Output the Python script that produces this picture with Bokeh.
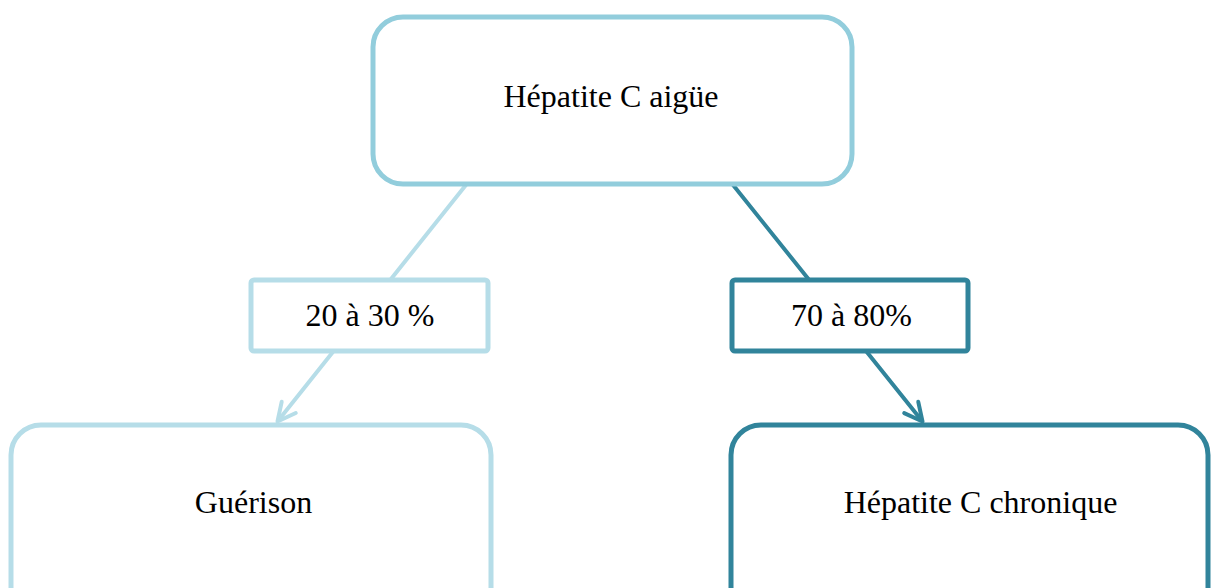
from bokeh.plotting import figure
from bokeh.models import Range1d, Arrow, OpenHead
from bokeh.core.properties import value
from bokeh.embed import file_html
from bokeh.resources import INLINE

W, H = 1211, 588  # reference size; y measured top-down in reference pixels, flipped below

# Nodes of the diagram
labels = ["Hépatite C aigüe", "20 à 30 %", "70 à 80%", "Guérison", "Hépatite C chronique"]
box_left = [372.5, 250.5, 731.5, 10.5, 730.5]
box_right = [851.5, 487.5, 967.5, 490.5, 1207.5]
box_top = [16.5, 279.5, 279.5, 424.5, 424.5]
box_bottom = [183.5, 350.5, 350.5, 640.0, 640.0]
box_radius = [30, 3, 3, 30, 30]
box_color = ["#92CDDC", "#B6DDE8", "#31849B", "#B6DDE8", "#31849B"]
text_x = [610.5, 369.5, 851.0, 253.0, 980.0]
text_y = [95, 314, 314, 501, 501]

# Edges (arrows)
edge_x0 = [465, 733]
edge_y0 = [185, 185]
edge_x1 = [277, 922]
edge_y1 = [421, 421]
edge_color = ["#B6DDE8", "#31849B"]

p = figure(width=W, height=H,
           x_range=Range1d(0, W), y_range=Range1d(0, H),
           output_backend="svg", toolbar_location=None,
           x_axis_type=None, y_axis_type=None, min_border=0)
p.grid.visible = False
p.outline_line_color = None
p.background_fill_color = "white"
p.border_fill_color = "white"

for x0, y0, x1, y1, c in zip(edge_x0, edge_y0, edge_x1, edge_y1, edge_color):
    arr = Arrow(x_start=x0, y_start=H - y0, x_end=x1, y_end=H - y1,
                line_color=c, line_width=4, line_cap="round",
                end=OpenHead(size=18, line_color=c, line_width=4,
                             line_cap="round", line_join="round"))
    arr.level = "underlay"
    p.add_layout(arr)

for l, r, t, b, rad, c in zip(box_left, box_right, box_top, box_bottom, box_radius, box_color):
    p.quad(left=[l], right=[r], top=[H - t], bottom=[H - b],
           fill_color="white", line_color=c, line_width=5,
           border_radius=rad)

p.text(x=text_x, y=[H - v for v in text_y], text=labels,
       text_font=value("Liberation Serif"), text_font_size="32px",
       text_align="center", text_baseline="alphabetic", text_color="#000000")

open("out.html", "w").write(file_html(p, INLINE))
